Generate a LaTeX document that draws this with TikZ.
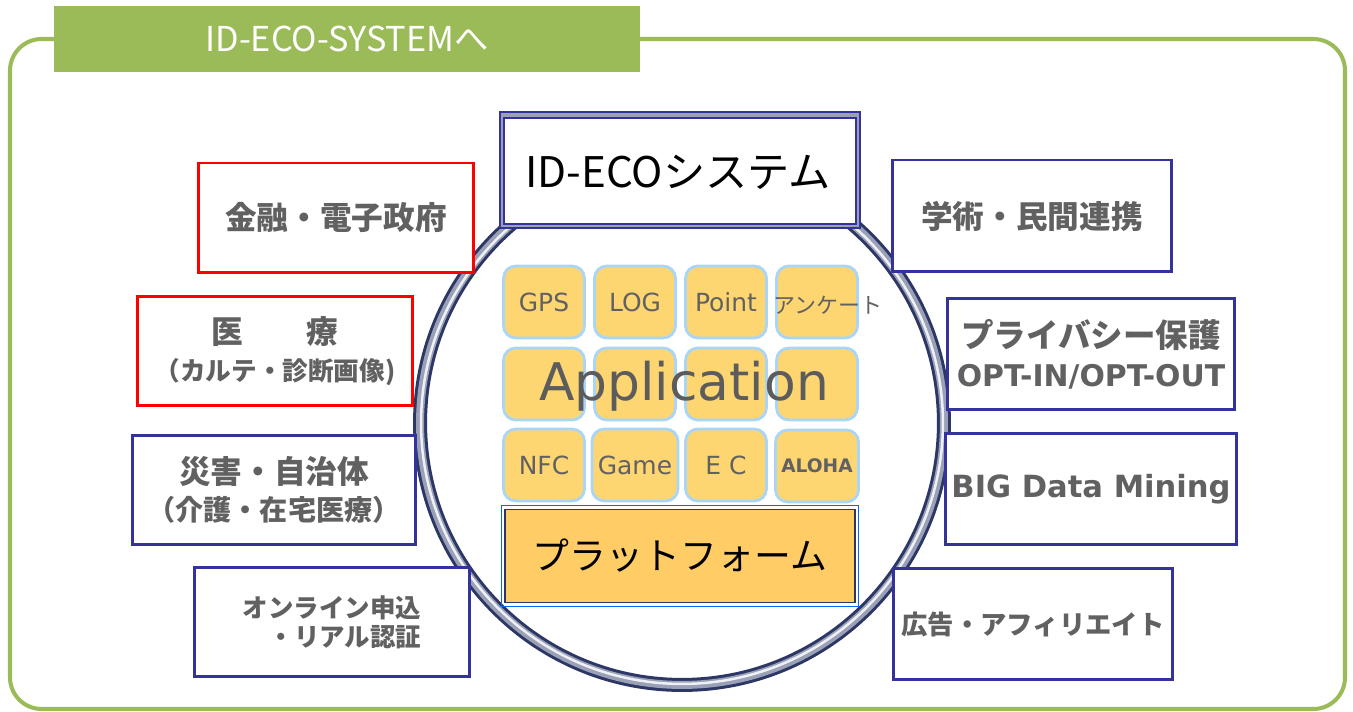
\documentclass[tikz,border=0pt]{standalone}
\usepackage{fontspec}
\newfontfamily\jp{Noto Sans CJK JP}
\newfontfamily\lat{DejaVu Sans}
\definecolor{leaf}{HTML}{9BBB59}
\definecolor{navy}{HTML}{333399}
\definecolor{txtgray}{HTML}{616161}
\definecolor{tilefill}{HTML}{FDD571}
\definecolor{tileedge}{HTML}{A9D6F7}
\definecolor{platefill}{HTML}{FFCC66}
\definecolor{ringdark}{HTML}{2C3766}
\definecolor{ringmid}{HTML}{9AA1B6}
\definecolor{ringlight}{HTML}{EEF0F5}
\begin{document}
\begin{tikzpicture}[x=0.02cm, y=-0.02cm,
  sidebox/.style={draw=navy, line width=1.7pt, fill=white, text=txtgray,
    minimum width=5.52cm, minimum height=2.2cm, align=center,
    font=\jp\bfseries\fontsize{18}{21}\selectfont},
  redbox/.style={sidebox, draw=red},
  tile/.style={draw=tileedge, line width=1.6pt, fill=tilefill, rounded corners=7pt,
    minimum width=1.62cm, minimum height=1.44cm, text=txtgray,
    font=\lat\fontsize{14.2}{16}\selectfont}]
\useasboundingbox (0,0) rectangle (1353,712);
% frame and title
\draw[leaf, line width=2.3pt, rounded corners=18pt] (10,39) rectangle (1345,709);
\node[fill=leaf, minimum width=11.72cm, minimum height=1.32cm, inner sep=0pt] (title) at (347,39) {};
\node[text=white, font=\jp\fontsize{19.5}{22}\selectfont] (titletext) at (347,39) {ID-ECO-SYSTEMへ};
% ring
\draw[ringdark, line width=0.28cm] (682,423) circle [radius=5.24cm];
\draw[ringmid, line width=0.16cm] (682,423) circle [radius=5.24cm];
\draw[ringlight, line width=0.05cm] (682,423) circle [radius=5.22cm];
% top box
\node[draw=navy, line width=0.8pt, fill=ringmid, minimum width=7.2cm, minimum height=2.32cm] (idsys) at (680,170) {};
\draw[navy, line width=0.8pt, fill=white] (504,118) rectangle (856,224);
\node[font=\jp\fontsize{24}{28}\selectfont] (idsystext) at (678,172) {ID-ECOシステム};
% tiles
\node[tile] (gps) at (544,302) {GPS};
\node[tile] (log) at (635,302) {LOG};
\node[tile] (point) at (726,302) {Point};
\node[tile] (survey) at (817,302) {};
\node[text=txtgray, font=\jp\fontsize{12.5}{14}\selectfont] (surveytext) at (828,305) {アンケート};
\node[tile] (app1) at (544,384) {};
\node[tile] (app2) at (635,384) {};
\node[tile] (app3) at (726,384) {};
\node[tile] (app4) at (817,384) {};
\node[text=txtgray!95!black, font=\lat\fontsize{29.5}{32}\selectfont] (apptext) at (684,386) {Application};
\node[tile] (nfc) at (544,465) {NFC};
\node[tile] (game) at (635,465) {Game};
\node[tile] (ec) at (726,465) {E C};
\node[tile, font=\lat\bfseries\fontsize{10.6}{13}\selectfont] (aloha) at (817,466) {ALOHA};
% platform
\node[draw=ringdark, line width=1pt, fill=platefill, minimum width=7.0cm, minimum height=1.86cm,
  font=\jp\fontsize{21}{24}\selectfont] (plate) at (680,556) {プラットフォーム};
\draw[blue!60!cyan, line width=0.6pt] ([shift={(-3,-3)}]plate.north west) rectangle ([shift={(3,3)}]plate.south east);
% left side
\node[redbox] (kinyu) at (336,218) {金融・電子政府};
\node[redbox] (iryo) at (275,351) {医　　療\\{\fontsize{14.6}{21}\selectfont （カルテ・診断画像)}};
\node[sidebox, minimum width=5.68cm] (saigai) at (274,490)
  {災害・自治体\\{\fontsize{16}{21}\selectfont （介護・在宅医療）}};
\node[sidebox, align=right, font=\jp\bfseries\fontsize{14.5}{16.5}\selectfont] (online) at (332,622)
  {オンライン申込\\・リアル認証};
% right side
\node[sidebox, minimum width=5.58cm, minimum height=2.24cm] (gakujutsu) at (1032,216) {学術・民間連携};
\node[sidebox, minimum width=5.76cm, minimum height=2.24cm, font=\jp\bfseries\fontsize{18.5}{22}\selectfont] (privacy) at (1091,354)
  {プライバシー保護\\{\lat\bfseries\fontsize{17}{22}\selectfont OPT-IN/OPT-OUT}};
\node[sidebox, minimum width=5.76cm, minimum height=2.24cm, font=\lat\bfseries\fontsize{17.4}{20}\selectfont] (bigdata) at (1091,489)
  {BIG Data Mining};
\node[sidebox, minimum width=5.6cm, minimum height=2.24cm, inner sep=0pt, font=\jp\bfseries\fontsize{15}{18}\selectfont] (koukoku) at (1033,624)
  {広告・アフィリエイト};
\end{tikzpicture}
\end{document}
